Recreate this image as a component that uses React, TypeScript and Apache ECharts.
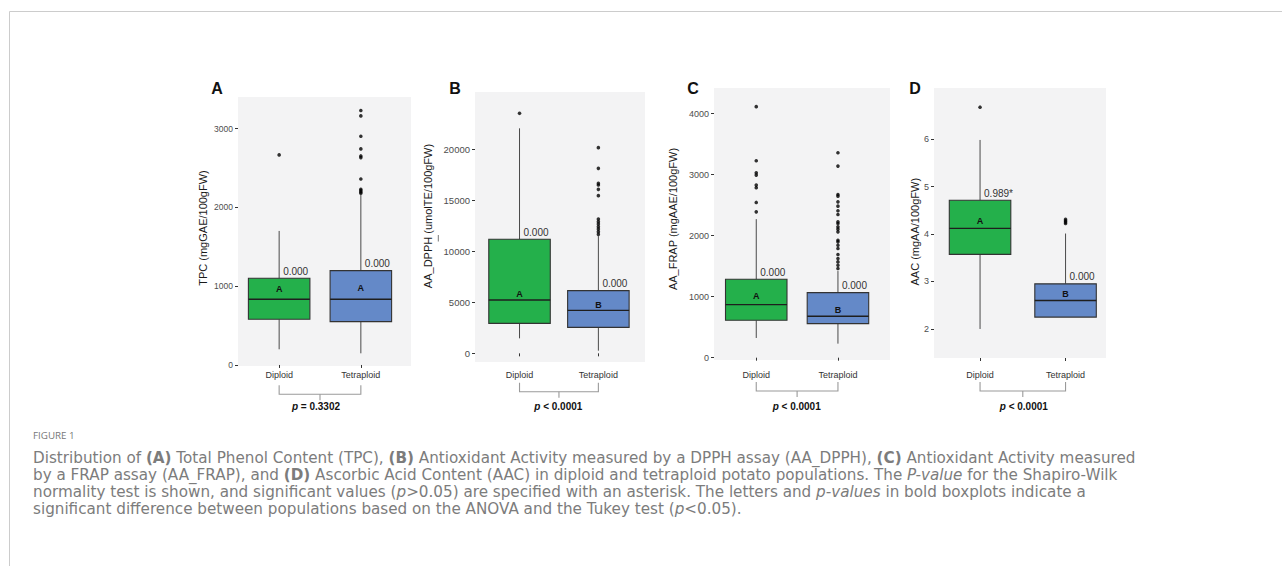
import React, { useEffect, useRef } from 'react';
import * as echarts from 'echarts';

// ---------- data ----------
const categories = ['Diploid', 'Tetraploid'];
const boxFills = ['#24B04B', '#6489C8'];

// Panel A: TPC  [min, Q1, median, Q3, max]
const tpcStats = [[199, 580, 834, 1100, 1701], [148, 550, 834, 1198, 2158]];
const tpcOutDiploid = [2666];
const tpcOutTetraploid = [2179, 2196, 2213, 2230, 2361, 2632, 2653, 2742, 2903, 3161, 3229];
const tpcLetterY = [961, 974];
const tpcLetters = ['A', 'A'];
const tpcShapiro = ['0.000', '0.000'];
const tpcTicks = [0, 1000, 2000, 3000];

// Panel B: AA_DPPH
const dpphStats = [[1473, 2946, 5237, 11195, 22095], [262, 2553, 4223, 6154, 11500]];
const dpphOutDiploid = [23568];
const dpphOutTetraploid = [11686, 11948, 12209, 12439, 12700, 12930, 13191, 15483, 16105, 16530, 16694, 18167, 20196];
const dpphLetterY = [5827, 4746];
const dpphLetters = ['A', 'B'];
const dpphShapiro = ['0.000', '0.000'];
const dpphTicks = [0, 5000, 10000, 15000, 20000];

// Panel C: AA_FRAP
const frapStats = [[323, 613, 870, 1286, 2271], [230, 558, 679, 1067, 1420]];
const frapOutDiploid = [2391, 2545, 2785, 2829, 2993, 3031, 3228, 4115];
const frapOutTetraploid = [1461, 1516, 1570, 1625, 1691, 1789, 1844, 1899, 1926, 2063, 2107, 2145, 2200, 2227, 2347, 2408, 2484, 2555, 2648, 2676, 3141, 3360];
const frapLetterY = [1007, 777];
const frapLetters = ['A', 'B'];
const frapShapiro = ['0.000', '0.000'];
const frapTicks = [0, 1000, 2000, 3000, 4000];

// Panel D: AAC
const aacStats = [[2.0, 3.57, 4.12, 4.71, 5.98], [2.24, 2.25, 2.6, 2.95, 4.01]];
const aacOutDiploid = [6.67];
const aacOutTetraploid = [4.22, 4.25, 4.28, 4.31];
const aacLetterY = [4.28, 2.73];
const aacLetters = ['A', 'B'];
const aacShapiro = ['0.989*', '0.000'];
const aacTicks = [2, 3, 4, 5, 6];

const panelTags = ['A', 'B', 'C', 'D'];
const yTitles = ['TPC (mgGAE/100gFW)', 'AA_DPPH (umolTE/100gFW)', 'AA_FRAP (mgAAE/100gFW)', 'AAC (mgAA/100gFW)'];
const pLabels = ['= 0.3302', '< 0.0001', '< 0.0001', '< 0.0001'];

const captionTitle = 'FIGURE 1';
const captionLines = [
  'Distribution of {b|(A)} Total Phenol Content (TPC), {b|(B)} Antioxidant Activity measured by a DPPH assay (AA_DPPH), {b|(C)} Antioxidant Activity measured',
  'by a FRAP assay (AA_FRAP), and {b|(D)} Ascorbic Acid Content (AAC) in diploid and tetraploid potato populations. The {i|P-value} for the Shapiro-Wilk',
  'normality test is shown, and significant values ({i|p}>0.05) are specified with an asterisk. The letters and {i|p-values} in bold boxplots indicate a',
  'significant difference between populations based on the ANOVA and the Tukey test ({i|p}<0.05).',
];

const panelData = [
  { stats: tpcStats, outs: [tpcOutDiploid, tpcOutTetraploid], letterY: tpcLetterY, letters: tpcLetters, shapiro: tpcShapiro, ticks: tpcTicks },
  { stats: dpphStats, outs: [dpphOutDiploid, dpphOutTetraploid], letterY: dpphLetterY, letters: dpphLetters, shapiro: dpphShapiro, ticks: dpphTicks },
  { stats: frapStats, outs: [frapOutDiploid, frapOutTetraploid], letterY: frapLetterY, letters: frapLetters, shapiro: frapShapiro, ticks: frapTicks },
  { stats: aacStats, outs: [aacOutDiploid, aacOutTetraploid], letterY: aacLetterY, letters: aacLetters, shapiro: aacShapiro, ticks: aacTicks },
];

// ---------- layout (pixels) ----------
const LAYOUT = [
  { bg: [238, 97, 173, 269], grid: [238.3, 97, 163.4, 269], yMin: -13, yMax: 3401, xMargin: 4, title: [203, 228], tag: [217, 88], brY: 394.3, pX: 316, tickFont: 8.5 },
  { bg: [475, 92, 170, 270], grid: [480.1, 92, 157.7, 270], yMin: -851, yMax: 25661, xMargin: 8, title: [428.3, 216], tag: [455, 88], brY: 391.7, pX: 558.3, tickFont: 9.5 },
  { bg: [714, 88, 176, 272], grid: [715.4, 88, 163.4, 272], yMin: -38, yMax: 4421, xMargin: 10, title: [673.3, 219], tag: [693, 88], brY: 391, pX: 796.7, tickFont: 9 },
  { bg: [934, 88, 172, 270], grid: [937.3, 88, 171, 270], yMin: 1.389, yMax: 7.074, xMargin: 12, title: [915, 231.7], tag: [915, 88], brY: 391, pX: 1023.8, tickFont: 9 },
];

const FONT = '"Liberation Sans", Arial, Helvetica, sans-serif';
const CAP_FONT = '"DejaVu Sans", "Open Sans", sans-serif';
const CAP_SIZE = 15.2;
const CAP_COLOR = '#7c7c7c';
const BOX_W = 61.5;

function makeRender(letters: string[], shapiro: string[]) {
  return (params: any, api: any) => {
    const i = api.value(0);
    const lo = api.coord([i, api.value(1)]);
    const q1 = api.coord([i, api.value(2)]);
    const med = api.coord([i, api.value(3)]);
    const q3 = api.coord([i, api.value(4)]);
    const hi = api.coord([i, api.value(5)]);
    const lt = api.coord([i, api.value(6)]);
    const h = BOX_W / 2;
    const cx = q1[0];
    const children: any[] = [];
    if (Math.abs(lo[1] - q1[1]) > 0.5) {
      children.push({ type: 'line', shape: { x1: cx, y1: lo[1], x2: cx, y2: q1[1] }, style: { stroke: '#4a4a4a', lineWidth: 1 } });
    }
    children.push({ type: 'line', shape: { x1: cx, y1: q3[1], x2: cx, y2: hi[1] }, style: { stroke: '#4a4a4a', lineWidth: 1 } });
    children.push({ type: 'rect', shape: { x: cx - h, y: q3[1], width: BOX_W, height: q1[1] - q3[1] }, style: { fill: boxFills[i], stroke: '#333333', lineWidth: 1.1 } });
    children.push({ type: 'line', shape: { x1: cx - h, y1: med[1], x2: cx + h, y2: med[1] }, style: { stroke: '#1e1e1e', lineWidth: 1.3 } });
    children.push({ type: 'text', x: cx, y: lt[1], style: { text: letters[params.dataIndex], align: 'center', verticalAlign: 'middle', font: `bold 9px ${FONT}`, fill: '#111' } });
    children.push({ type: 'text', x: cx + 4, y: q3[1] - 2, style: { text: shapiro[params.dataIndex], align: 'left', verticalAlign: 'bottom', font: `10px ${FONT}`, fill: '#333' } });
    return { type: 'group', children };
  };
}

export default function App() {
  const ref = useRef<HTMLDivElement>(null);
  useEffect(() => {
    const chart = echarts.init(ref.current!, null, { renderer: 'svg' });
    const grid: any[] = [];
    const xAxis: any[] = [];
    const yAxis: any[] = [];
    const series: any[] = [];
    const graphic: any[] = [];

    // frame
    graphic.push({ type: 'line', shape: { x1: 9.5, y1: 11.5, x2: 1282, y2: 11.5 }, style: { stroke: '#cccccc', lineWidth: 1 } });
    graphic.push({ type: 'line', shape: { x1: 9.5, y1: 11.5, x2: 9.5, y2: 566 }, style: { stroke: '#cccccc', lineWidth: 1 } });

    LAYOUT.forEach((L, k) => {
      const d = panelData[k];
      grid.push({ left: L.grid[0], top: L.grid[1], width: L.grid[2], height: L.grid[3], show: false });
      xAxis.push({
        gridIndex: k, type: 'category', data: categories,
        axisLine: { show: false },
        axisTick: { show: true, alignWithLabel: true, length: 3, lineStyle: { color: '#333', width: 1 } },
        axisLabel: { margin: L.xMargin, fontSize: 9, color: '#333', fontFamily: FONT },
        splitLine: { show: false },
      });
      yAxis.push({
        gridIndex: k, type: 'value', min: L.yMin, max: L.yMax, offset: L.grid[0] - L.bg[0],
        axisLine: { show: false },
        axisTick: { show: true, length: 3, customValues: d.ticks, lineStyle: { color: '#333', width: 1 } },
        axisLabel: { customValues: d.ticks, formatter: (v: number) => String(v), margin: 5, fontSize: L.tickFont, color: '#4d4d4d', fontFamily: FONT },
        splitLine: { show: false },
      });
      series.push({
        type: 'custom', xAxisIndex: k, yAxisIndex: k,
        renderItem: makeRender(d.letters, d.shapiro),
        encode: { x: 0, y: [1, 2, 3, 4, 5, 6] },
        data: d.stats.map((s, i) => [i, ...s, d.letterY[i]]),
        z: 3,
      });
      const pts: number[][] = [];
      d.outs.forEach((arr, i) => arr.forEach((v) => pts.push([i, v])));
      series.push({
        type: 'scatter', xAxisIndex: k, yAxisIndex: k, data: pts,
        symbolSize: 3.6, itemStyle: { color: '#000' }, z: 4,
      });

      // background
      graphic.push({ type: 'rect', z: -10, shape: { x: L.bg[0], y: L.bg[1], width: L.bg[2], height: L.bg[3] }, style: { fill: '#F3F3F4' } });
      // panel tag
      graphic.push({ type: 'text', x: L.tag[0], y: L.tag[1], style: { text: panelTags[k], align: 'center', verticalAlign: 'middle', font: `bold 16px ${FONT}`, fill: '#111' } });
      // y title
      graphic.push({ type: 'text', x: L.title[0], y: L.title[1], rotation: Math.PI / 2, style: { text: yTitles[k], align: 'center', verticalAlign: 'middle', font: `11px ${FONT}`, fill: '#1a1a1a' } });
      // bracket
      const c1 = L.grid[0] + L.grid[2] * 0.25;
      const c2 = L.grid[0] + L.grid[2] * 0.75;
      const mid = (c1 + c2) / 2;
      const bs = { stroke: '#9a9a9a', lineWidth: 1.1 };
      graphic.push({ type: 'polyline', shape: { points: [[c1, L.brY - 9], [c1, L.brY], [c2, L.brY], [c2, L.brY - 9]] }, style: { ...bs, fill: null } });
      graphic.push({ type: 'line', shape: { x1: mid, y1: L.brY, x2: mid, y2: L.brY + 6 }, style: bs });
      graphic.push({
        type: 'text', x: L.pX, y: 406.7,
        style: {
          text: `{i|p} {b|${pLabels[k]}}`, align: 'center', verticalAlign: 'middle',
          rich: {
            i: { fontFamily: FONT, fontSize: 10, fontWeight: 'bold', fontStyle: 'italic', fill: '#111' },
            b: { fontFamily: FONT, fontSize: 10, fontWeight: 'bold', fill: '#111' },
          },
          font: `bold 10px ${FONT}`, fill: '#111',
        },
      });
    });

    // small mark next to panel B title
    graphic.push({ type: 'line', shape: { x1: 438.3, y1: 235, x2: 438.3, y2: 241.5 }, style: { stroke: '#777', lineWidth: 1 } });

    // caption
    graphic.push({ type: 'text', x: 33, y: 435, style: { text: captionTitle, align: 'left', verticalAlign: 'middle', font: `500 9.8px "Open Sans", sans-serif`, fill: '#777' } });
    captionLines.forEach((line, j) => {
      graphic.push({
        type: 'text', x: 33, y: 458.3 + j * 17,
        style: {
          text: line, align: 'left', verticalAlign: 'middle',
          font: `${CAP_SIZE}px ${CAP_FONT}`, fill: CAP_COLOR,
          rich: {
            b: { fontFamily: CAP_FONT, fontSize: CAP_SIZE, fontWeight: 'bold', fill: CAP_COLOR },
            i: { fontFamily: CAP_FONT, fontSize: CAP_SIZE, fontStyle: 'italic', fill: CAP_COLOR },
          },
        },
      });
    });

    chart.setOption({
      animation: false,
      backgroundColor: '#ffffff',
      grid, xAxis, yAxis, series, graphic,
    });
    return () => chart.dispose();
  }, []);
  return <div ref={ref} style={{ position: 'absolute', left: 0, top: 0, width: 1282, height: 566 }} />;
}
